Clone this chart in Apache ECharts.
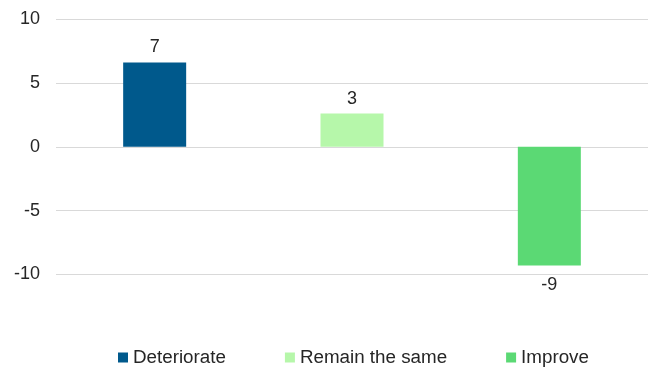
<!DOCTYPE html>
<html>
<head>
<meta charset="utf-8">
<script src="https://cdn.jsdelivr.net/npm/echarts@6/dist/echarts.min.js"></script>
<style>
  html, body { margin: 0; padding: 0; background: #fff; }
  #chart { width: 649px; height: 367px; }
</style>
</head>
<body>
<div id="chart"></div>
<script>
// Change in outlook: one bar per answer
const categories = ['Deteriorate', 'Remain the same', 'Improve'];
const values = [6.6, 2.6, -9.3];
const colors = ['#00598C', '#B6F7AA', '#5BD974'];
const yTicks = { min: -10, max: 10, interval: 5 };

const chart = echarts.init(document.getElementById('chart'), null, { renderer: 'canvas' });

const series = categories.map(function (name, i) {
  const data = categories.map(function (_, j) { return j === i ? values[i] : null; });
  return {
    name: name,
    type: 'bar',
    stack: 'all',
    barWidth: 63,
    data: data,
    itemStyle: { color: colors[i] },
    label: {
      show: true,
      position: values[i] < 0 ? 'bottom' : 'top',
      distance: values[i] < 0 ? 10 : 6,
      fontFamily: 'Liberation Sans, Arial, sans-serif',
      fontSize: 18,
      color: '#262626',
      formatter: function (p) { return p.value == null ? '' : String(Math.round(p.value)); }
    }
  };
});

chart.setOption({
  animation: false,
  backgroundColor: '#ffffff',
  grid: { left: 56, right: 1, top: 19, bottom: 92.5, containLabel: false },
  legend: {
    bottom: -5,
    left: 113,
    itemWidth: 10,
    itemHeight: 10,
    itemGap: 59,
    icon: 'rect',
    textStyle: { fontFamily: 'Liberation Sans, Arial, sans-serif', fontSize: 18.8, color: '#262626' },
    data: categories
  },
  xAxis: {
    type: 'category',
    data: categories,
    axisLine: { show: false },
    axisTick: { show: false },
    axisLabel: { show: false }
  },
  yAxis: {
    type: 'value',
    min: yTicks.min,
    max: yTicks.max,
    interval: yTicks.interval,
    axisLine: { show: false },
    axisTick: { show: false },
    axisLabel: { fontFamily: 'Liberation Sans, Arial, sans-serif', fontSize: 18, color: '#262626', margin: 16 },
    splitLine: { lineStyle: { color: '#D9D9D9', width: 1 } }
  },
  series: series
});
</script>
</body>
</html>
